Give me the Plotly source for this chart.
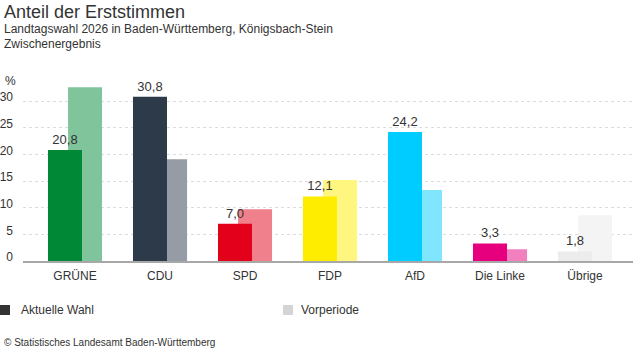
import plotly.graph_objects as go

parties = ["GRÜNE", "CDU", "SPD", "FDP", "AfD", "Die Linke", "Übrige"]
current = [20.8, 30.8, 7.0, 12.1, 24.2, 3.3, 1.8]
previous = [32.6, 19.1, 9.7, 15.2, 13.3, 2.2, 8.6]
colors_current = ["#008837", "#2c3a4a", "#e2001a", "#ffed00", "#00ccff", "#e6007e", "#ececec"]
colors_previous = ["#80c49c", "#959ca5", "#f0808c", "#fff680", "#80e6ff", "#f280be", "#f4f4f4"]
y_ticks = [0, 5, 10, 15, 20, 25, 30]

W, H = 637, 352
L, R, T, B = 23, 4, 85, 91
PW, PH = W - L - R, H - T - B

def px(x):
    return (x - L) / PW

def py(y):
    return (H - B - y) / PH

FONT = "Liberation Sans, Arial, sans-serif"

fig = go.Figure()
fig.add_trace(go.Bar(
    x=parties, y=previous, width=0.4, offset=-0.082,
    marker=dict(color=colors_previous, line=dict(width=0)),
    name="Vorperiode", showlegend=False, hoverinfo="skip"))
fig.add_trace(go.Bar(
    x=parties, y=current, width=0.4, offset=-0.318,
    marker=dict(color=colors_current, line=dict(width=0)),
    texttemplate="%{y:.1f}", textposition="outside", cliponaxis=False,
    textfont=dict(size=13, color="#333333", family=FONT),
    name="Aktuelle Wahl", showlegend=False))

# keep 85 px per category: range span = PW/85
span = PW / 85.0
fig.update_layout(
    width=W, height=H, barmode="overlay", separators=",.",
    margin=dict(l=L, r=R, t=T, b=B),
    paper_bgcolor="white", plot_bgcolor="white",
    font=dict(family=FONT, color="#333333", size=12),
    showlegend=False,
    xaxis=dict(range=[-0.612, -0.612 + span], showgrid=False, showline=True,
               linecolor="#a8a8a8", linewidth=2, ticks="", automargin=False,
               ticklabelstandoff=3,
               tickfont=dict(size=12, color="#333333")),
    yaxis=dict(range=[0, 33], tickvals=y_ticks, showgrid=True,
               gridcolor="#dddddd", griddash="dot", gridwidth=1,
               zeroline=False, showline=False, ticks="", automargin=False,
               ticklabelstandoff=9, ticklabelshift=-4,
               tickfont=dict(size=12, color="#333333")),
)

ann = [
    dict(text="Anteil der Erststimmen", x=px(2), y=py(12), size=18),
    dict(text="Landtagswahl 2026 in Baden-Württemberg, Königsbach-Stein", x=px(2), y=py(29), size=12),
    dict(text="Zwischenergebnis", x=px(2), y=py(44), size=12),
    dict(text="%", x=px(3), y=py(81), size=12),
    dict(text="Aktuelle Wahl", x=px(19), y=py(310), size=12),
    dict(text="Vorperiode", x=px(299), y=py(310), size=12),
    dict(text="© Statistisches Landesamt Baden-Württemberg", x=px(2), y=py(342), size=10),
]
for a in ann:
    fig.add_annotation(text=a["text"], x=a["x"], y=a["y"], xref="paper", yref="paper",
                       xanchor="left", yanchor="middle", showarrow=False,
                       font=dict(size=a["size"], color="#333333", family=FONT))

fig.add_shape(type="rect", xref="paper", yref="paper", x0=px(0), x1=px(10),
              y0=py(305), y1=py(315), fillcolor="#333333", line=dict(width=0))
fig.add_shape(type="rect", xref="paper", yref="paper", x0=px(283), x1=px(293),
              y0=py(305), y1=py(315), fillcolor="#d4d4d4", line=dict(width=0))

fig.write_html("out.html")
